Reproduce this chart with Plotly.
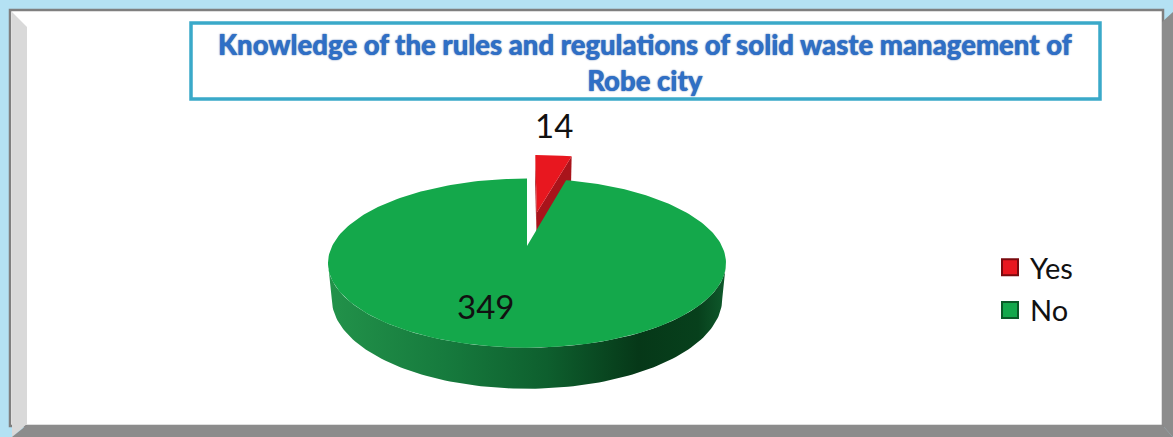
import numpy as np
import plotly.graph_objects as go

# ---------------- data ----------------
labels = ["Yes", "No"]
values = [14, 349]
explode = [0.455, 0.0]
top_colors = ["#E8171F", "#14A84B"]
cut_colors = ["#A9141B", "#0E7A36"]
edge_colors = ["#7A0A0E", "#0B5A27"]
title_text = "Knowledge of the rules and regulations of solid waste management of<br>Robe city"

W, H = 1173, 437

# ---------------- 3-D pie projection (perspective) ----------------
CX, CY = 527.0, 246.0
FOC = 877.0
ALPHA = np.radians(24.6)
DIST = 4.5
THICK = 0.2
ca, sa = np.cos(ALPHA), np.sin(ALPHA)
CAM = np.array([0.0, DIST * sa, -DIST * ca])


def proj(x, h, z):
    x = np.asarray(x, float); h = np.asarray(h, float); z = np.asarray(z, float)
    yp = h * ca + z * sa
    dep = -h * sa + z * ca + DIST
    return CX + FOC * x / dep, CY - FOC * yp / dep


total = float(sum(values))
angles = np.cumsum([0.0] + [v / total * 360.0 for v in values])
sil = np.degrees(np.arccos(-ca / DIST))  # silhouette angle of the rim
sil_l, sil_r = sil, 360.0 - sil

fig = go.Figure()


def add_poly(xs, ys, color=None, gradient=None):
    kw = dict(x=list(xs) + [xs[0]], y=list(ys) + [ys[0]], mode="lines", fill="toself",
              line=dict(width=0, color="rgba(0,0,0,0)"),
              hoverinfo="skip", showlegend=False)
    if gradient is not None:
        kw["fillgradient"] = gradient
    else:
        kw["fillcolor"] = color
    fig.add_trace(go.Scatter(**kw))


slice_geo = []
for i, v in enumerate(values):
    a0, a1 = angles[i], angles[i + 1]
    mid = np.radians((a0 + a1) / 2)
    ox, oz = explode[i] * np.sin(mid), explode[i] * np.cos(mid)
    slice_geo.append((a0, a1, ox, oz, mid))

for i in range(len(values)):
    a0, a1, ox, oz, mid = slice_geo[i]
    # cut faces (only those facing the camera)
    for ang, sign in ((a0, -1.0), (a1, 1.0)):
        r = np.radians(ang)
        normal = sign * np.array([np.cos(r), 0.0, -np.sin(r)])
        pt = np.array([ox + 0.5 * np.sin(r), 0.0, oz + 0.5 * np.cos(r)])
        if np.dot(normal, CAM - pt) > 0.05 and (a1 - a0) < 359:
            xs = [ox, ox + np.sin(r), ox + np.sin(r), ox]
            zs = [oz, oz + np.cos(r), oz + np.cos(r), oz]
            hs = [0, 0, -THICK, -THICK]
            px, py = proj(xs, hs, zs)
            add_poly(px, py, color=cut_colors[i])
    # outer rim (front part only)
    lo, hi = max(a0, sil_l), min(a1, sil_r)
    if hi > lo:
        t = np.radians(np.linspace(lo, hi, 120))
        tx, ty = proj(ox + np.sin(t), np.zeros_like(t), oz + np.cos(t))
        bx, by = proj(ox + np.sin(t), -THICK * np.ones_like(t), oz + np.cos(t))
        px = np.concatenate([tx, bx[::-1]])
        py = np.concatenate([ty, by[::-1]])
        grad = dict(type="horizontal",
                    colorscale=[[0.0, "#22924A"], [0.3, "#167A3D"], [0.55, "#0E5F2E"],
                                [0.78, "#063818"], [0.93, "#07401C"], [1.0, "#0F5A2C"]]) if i == 1 else \
            dict(type="horizontal", colorscale=[[0, "#C4161C"], [1, "#7A0A0E"]])
        add_poly(px, py, gradient=grad)
    # top face
    t = np.radians(np.linspace(a0, a1, 240))
    ax, ay = proj([ox], [0], [oz])
    tx, ty = proj(ox + np.sin(t), np.zeros_like(t), oz + np.cos(t))
    add_poly(np.concatenate([ax, tx]), np.concatenate([ay, ty]), color=top_colors[i])

# ---------------- data labels ----------------
for i, v in enumerate(values):
    a0, a1, ox, oz, mid = slice_geo[i]
    if explode[i] > 0:
        lx, ly = proj([ox + np.sin(mid)], [0], [oz + np.cos(mid)])
        fig.add_annotation(x=lx[0], y=ly[0], text=str(v), showarrow=False, yshift=30,
                           font=dict(family="Lato", size=33, color="#111111"))
    else:
        r = 0.65
        lx, ly = proj([ox + r * np.sin(mid)], [0], [oz + r * np.cos(mid)])
        fig.add_annotation(x=lx[0], y=ly[0], text=str(v), showarrow=False, xshift=-24,
                           font=dict(family="Lato", size=33, color="#111111"))

# ---------------- legend entries ----------------
for i, lab in enumerate(labels):
    fig.add_trace(go.Scatter(x=[None], y=[None], mode="markers", name=lab,
                             legendgroup=lab,
                             marker=dict(symbol="square", size=20, color=top_colors[i],
                                         line=dict(color=edge_colors[i], width=2))))

# ---------------- frame & title box ----------------
shapes = [
    dict(type="rect", x0=10, y0=10, x1=1163, y1=426, fillcolor="white",
         line=dict(color="#7F7F7F", width=2.5), layer="below"),
    dict(type="path", path="M 12 12 L 27 27 L 27 424 L 12 437 Z", fillcolor="#D9D9D9",
         line=dict(width=0), layer="below"),
    dict(type="path", path="M 12 437 L 27 425 L 1162 425 L 1173 437 Z", fillcolor="#8C8C8C",
         line=dict(width=0), layer="below"),
    dict(type="path", path="M 1162 22 L 1173 12 L 1173 437 L 1162 425 Z", fillcolor="#8C8C8C",
         line=dict(width=0), layer="below"),
    dict(type="rect", x0=191, y0=23, x1=1100, y1=99, fillcolor="white",
         line=dict(color="#3AA9C9", width=3.5), layer="below"),
]

fig.add_annotation(x=645, y=62, text=title_text, showarrow=False,
                   font=dict(family="Lato", size=27.5, color="#2F6FC6", weight=900,
                             shadow="0px 0px 1.5px #1B4A94"),
                   align="center")

fig.update_layout(
    width=W, height=H,
    margin=dict(l=0, r=0, t=0, b=0),
    paper_bgcolor="#B4E1F3",
    plot_bgcolor="rgba(0,0,0,0)",
    xaxis=dict(range=[0, W], visible=False, fixedrange=True),
    yaxis=dict(range=[H, 0], visible=False, fixedrange=True),
    shapes=shapes,
    showlegend=True,
    legend=dict(x=990 / W, y=1 - 242 / H, xanchor="left", yanchor="top",
                font=dict(family="Lato", size=29, color="#111111"),
                bgcolor="rgba(0,0,0,0)", tracegroupgap=2, itemsizing="trace"),
)

fig.write_html("out.html", config={"displayModeBar": False},
               post_script="document.body.style.margin='0';document.body.style.padding='0';")
